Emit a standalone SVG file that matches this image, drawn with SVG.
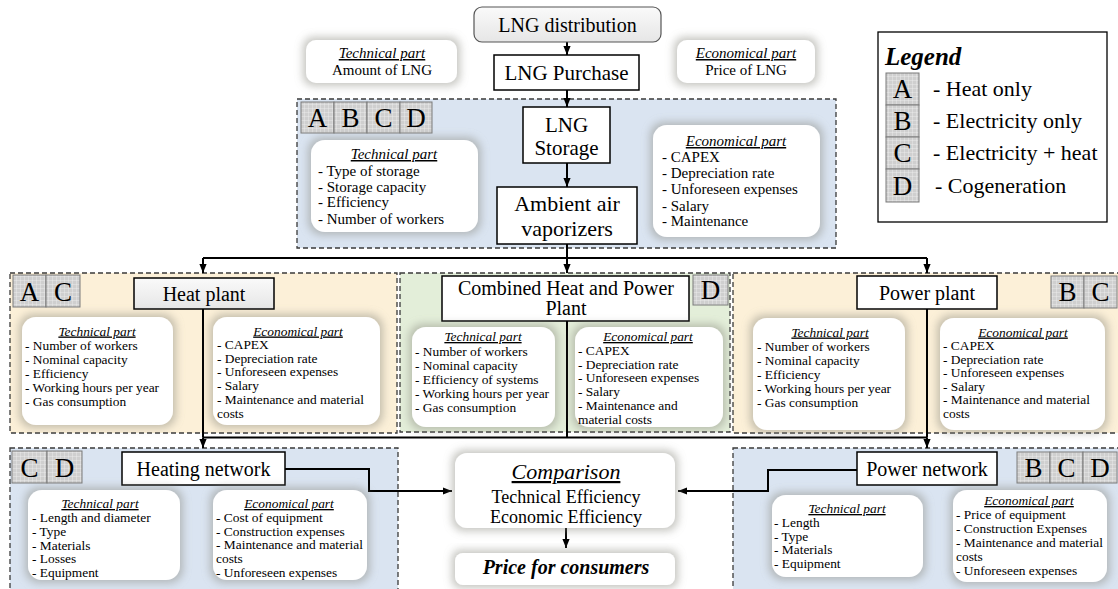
<svg xmlns="http://www.w3.org/2000/svg" width="1118" height="589" viewBox="0 0 1118 589">
<defs>
<style>
text{font-family:"Liberation Serif","Times New Roman",serif;fill:#000}
.reg{stroke:#3a3a3a;stroke-width:1.3;stroke-dasharray:5,3}
.blue{fill:#dae4f1}
.yel{fill:#fcf0d8}
.grn{fill:#e3eed9}
.card{fill:#fff;filter:url(#glow)}
.box{fill:#fff;stroke:#000;stroke-width:1.5}
.badge{fill:url(#grid);stroke:#7a7a7a;stroke-width:1}
.bl{font-size:27px;text-anchor:middle}
.t15{font-size:15px}
.t13{font-size:13.4px}
.ttl{font-style:italic;text-decoration:underline;text-anchor:middle}
.mid{text-anchor:middle}
.big{font-size:20px;text-anchor:middle}
.con{fill:none;stroke:#000;stroke-width:2}
.arr{marker-end:url(#ah)}
</style>
<pattern id="grid" width="4" height="4" patternUnits="userSpaceOnUse">
<rect width="4" height="4" fill="#cfcfcf"/>
<path d="M0,0H4M0,0V4" stroke="#f0f0f0" stroke-width="0.8"/>
</pattern>
<filter id="glow" x="-20%" y="-30%" width="140%" height="160%">
<feMorphology in="SourceAlpha" operator="dilate" radius="3" result="d"/>
<feGaussianBlur in="d" stdDeviation="4" result="b"/>
<feFlood flood-color="#8a8a80" flood-opacity="0.5"/>
<feComposite in2="b" operator="in" result="s"/>
<feMerge><feMergeNode in="s"/><feMergeNode in="SourceGraphic"/></feMerge>
</filter>
<linearGradient id="gd" x1="0" y1="0" x2="0" y2="1">
<stop offset="0" stop-color="#fafafa"/><stop offset="1" stop-color="#e6e6e6"/>
</linearGradient>
<marker id="ah" viewBox="0 0 10 10" refX="10" refY="5" markerWidth="9" markerHeight="9" markerUnits="userSpaceOnUse" orient="auto">
<path d="M0,1 L10,5 L0,9 z" fill="#000"/>
</marker>
</defs>

<rect width="1118" height="589" fill="#fff"/>

<!-- regions -->
<g id="regions">
<rect class="reg blue" x="297" y="99" width="539" height="149"/>
<rect class="reg yel" x="10" y="273" width="387" height="160"/>
<rect class="reg grn" x="400" y="273" width="330" height="159"/>
<rect class="reg yel" x="733" y="273" width="395" height="160"/>
<rect class="reg blue" x="10" y="448" width="388" height="150"/>
<rect class="reg blue" x="733" y="448" width="395" height="150"/>
</g>

<!-- connectors -->
<g id="connectors">
<path class="con arr" d="M567,42V55"/>
<path class="con arr" d="M567,90V107"/>
<path class="con arr" d="M567,163V187"/>
<path class="con" d="M567,244V258M203,258H927"/>
<path class="con arr" d="M203,258V273"/>
<path class="con arr" d="M567,258V273"/>
<path class="con arr" d="M927,258V273"/>
<path class="con" d="M203,309V437.5M567,321V437.5M927,309V437.5M203,437.5H927"/>
<path class="con arr" d="M203,437.5V448"/>
<path class="con arr" d="M927,437.5V448"/>
<path class="con arr" d="M285,469H369V491H452"/>
<path class="con arr" d="M857,470H768V491H678"/>
<path class="con arr" d="M566,528V548"/>
</g>

<!-- top -->
<g id="lng-distribution">
<rect x="474" y="7" width="187" height="35" rx="8" fill="url(#gd)" stroke="#555" stroke-width="1.2"/>
<text class="big" x="567.5" y="32">LNG distribution</text>
</g>
<g id="top-technical">
<rect class="card" x="306" y="40" width="151" height="43" rx="10"/>
<text class="t15 ttl" x="382" y="58">Technical part</text>
<text class="t15 mid" x="382" y="75">Amount of LNG</text>
</g>
<g id="lng-purchase">
<rect class="box" x="494" y="55" width="145" height="35"/>
<text class="mid" style="font-size:21px" x="566.5" y="79.5">LNG Purchase</text>
</g>
<g id="top-economical">
<rect class="card" x="677" y="40" width="138" height="43" rx="10"/>
<text class="t15 ttl" x="746" y="58">Economical part</text>
<text class="t15 mid" x="746" y="75">Price of LNG</text>
</g>

<!-- storage -->
<g id="storage-badges">
<rect class="badge" x="301" y="102" width="33" height="31"/>
<rect class="badge" x="334" y="102" width="33" height="31"/>
<rect class="badge" x="367" y="102" width="33" height="31"/>
<rect class="badge" x="400" y="102" width="32" height="31"/>
<text class="bl" x="317.5" y="127">A</text>
<text class="bl" x="350.5" y="127">B</text>
<text class="bl" x="383.5" y="127">C</text>
<text class="bl" x="416" y="127">D</text>
</g>
<g id="storage-technical">
<rect class="card" x="311" y="140" width="167" height="92" rx="14"/>
<text class="t15 ttl" x="394" y="159">Technical part</text>
<text class="t15" x="318" y="176">- Type of storage</text>
<text class="t15" x="318" y="192">- Storage capacity</text>
<text class="t15" x="318" y="207">- Efficiency</text>
<text class="t15" x="318" y="224">- Number of workers</text>
</g>
<g id="lng-storage">
<rect class="box" x="523" y="107" width="87" height="56"/>
<text class="mid" style="font-size:21px" x="566.5" y="132">LNG</text>
<text class="mid" style="font-size:21px" x="566.5" y="155">Storage</text>
</g>
<g id="vaporizers">
<rect class="box" x="497" y="187" width="140" height="57"/>
<text class="mid" style="font-size:22px" x="567" y="211">Ambient air</text>
<text class="mid" style="font-size:22px" x="567" y="236">vaporizers</text>
</g>
<g id="storage-economical">
<rect class="card" x="653" y="125" width="167" height="112" rx="14"/>
<text class="t15 ttl" x="736" y="146">Economical part</text>
<text class="t15" x="662" y="162">- CAPEX</text>
<text class="t15" x="662" y="178">- Depreciation rate</text>
<text class="t15" x="662" y="194">- Unforeseen expenses</text>
<text class="t15" x="662" y="211">- Salary</text>
<text class="t15" x="662" y="226">- Maintenance</text>
</g>

<!-- legend -->
<g id="legend">
<rect x="878" y="32" width="229" height="190" fill="#fff" stroke="#000" stroke-width="1.3"/>
<text x="885" y="65" style="font-size:25px;font-weight:bold;font-style:italic">Legend</text>
<rect class="badge" x="886" y="73" width="33" height="32"/>
<rect class="badge" x="886" y="105" width="33" height="32"/>
<rect class="badge" x="886" y="137" width="33" height="32"/>
<rect class="badge" x="886" y="169" width="33" height="33"/>
<text class="bl" x="902.5" y="98">A</text>
<text class="bl" x="902.5" y="130">B</text>
<text class="bl" x="902.5" y="162">C</text>
<text class="bl" x="902.5" y="195">D</text>
<text x="933" y="96" style="font-size:22px">- Heat only</text>
<text x="933" y="128" style="font-size:22px">- Electricity only</text>
<text x="933" y="160" style="font-size:22px">- Electricity + heat</text>
<text x="935" y="193" style="font-size:22px">- Cogeneration</text>
</g>

<!-- heat plant -->
<g id="heat-plant">
<rect class="badge" x="13" y="275" width="33" height="32"/>
<rect class="badge" x="46" y="275" width="34" height="32"/>
<text class="bl" x="29.5" y="301">A</text>
<text class="bl" x="63" y="301">C</text>
<rect class="box" x="134" y="278" width="140" height="31" style="fill:url(#gd)"/>
<text class="big" x="204" y="300.5">Heat plant</text>
<rect class="card" x="22" y="317" width="151" height="108" rx="14"/>
<text class="t13 ttl" x="97" y="335.5">Technical part</text>
<text class="t13" x="25" y="349.5">- Number of workers</text>
<text class="t13" x="25" y="363.5">- Nominal capacity</text>
<text class="t13" x="25" y="377.5">- Efficiency</text>
<text class="t13" x="25" y="391.5">- Working hours per year</text>
<text class="t13" x="25" y="405.5">- Gas consumption</text>
<rect class="card" x="213" y="317" width="167" height="108" rx="14"/>
<text class="t13 ttl" x="298" y="335.5">Economical part</text>
<text class="t13" x="217" y="349">- CAPEX</text>
<text class="t13" x="217" y="362.5">- Depreciation rate</text>
<text class="t13" x="217" y="376">- Unforeseen expenses</text>
<text class="t13" x="217" y="390">- Salary</text>
<text class="t13" x="217" y="403.5">- Maintenance and material</text>
<text class="t13" x="217" y="417.5">costs</text>
</g>

<!-- CHP -->
<g id="chp-plant">
<rect class="box" x="442" y="276" width="247" height="45"/>
<text class="big" x="566" y="295">Combined Heat and Power</text>
<text class="big" x="566" y="315">Plant</text>
<rect class="badge" x="693" y="275" width="35" height="30"/>
<text class="bl" x="710.5" y="299">D</text>
<rect class="card" x="412" y="327" width="143" height="100" rx="14"/>
<text class="t13 ttl" x="483" y="341">Technical part</text>
<text class="t13" x="415" y="355.5">- Number of workers</text>
<text class="t13" x="415" y="369.5">- Nominal capacity</text>
<text class="t13" x="415" y="383.5">- Efficiency of systems</text>
<text class="t13" x="415" y="397.5">- Working hours per year</text>
<text class="t13" x="415" y="411.5">- Gas consumption</text>
<rect class="card" x="575" y="327" width="148" height="100" rx="14"/>
<text class="t13 ttl" x="648" y="341">Economical part</text>
<text class="t13" x="578" y="355">- CAPEX</text>
<text class="t13" x="578" y="368.5">- Depreciation rate</text>
<text class="t13" x="578" y="382">- Unforeseen expenses</text>
<text class="t13" x="578" y="396">- Salary</text>
<text class="t13" x="578" y="410">- Maintenance and</text>
<text class="t13" x="578" y="424">material costs</text>
</g>

<!-- power plant -->
<g id="power-plant">
<rect class="box" x="857" y="276" width="140" height="33"/>
<text class="big" x="927" y="299.5">Power plant</text>
<rect class="badge" x="1051" y="276" width="33" height="32"/>
<rect class="badge" x="1084" y="276" width="33" height="32"/>
<text class="bl" x="1067.5" y="301">B</text>
<text class="bl" x="1100.5" y="301">C</text>
<rect class="card" x="753" y="318" width="152" height="112" rx="14"/>
<text class="t13 ttl" x="830" y="336.5">Technical part</text>
<text class="t13" x="757" y="351">- Number of workers</text>
<text class="t13" x="757" y="365">- Nominal capacity</text>
<text class="t13" x="757" y="379">- Efficiency</text>
<text class="t13" x="757" y="392.5">- Working hours per year</text>
<text class="t13" x="757" y="406.5">- Gas consumption</text>
<rect class="card" x="940" y="318" width="165" height="112" rx="14"/>
<text class="t13 ttl" x="1023" y="336.5">Economical part</text>
<text class="t13" x="943" y="350">- CAPEX</text>
<text class="t13" x="943" y="363.5">- Depreciation rate</text>
<text class="t13" x="943" y="377">- Unforeseen expenses</text>
<text class="t13" x="943" y="390.5">- Salary</text>
<text class="t13" x="943" y="404">- Maintenance and material</text>
<text class="t13" x="943" y="418">costs</text>
</g>

<!-- heating network -->
<g id="heating-network">
<rect class="badge" x="12" y="451" width="35" height="32"/>
<rect class="badge" x="47" y="451" width="35" height="32"/>
<text class="bl" x="29.5" y="477">C</text>
<text class="bl" x="64.5" y="477">D</text>
<rect class="box" x="122" y="452" width="163" height="33"/>
<text class="big" x="203.5" y="475.5">Heating network</text>
<rect class="card" x="28" y="490" width="152" height="90" rx="14"/>
<text class="t13 ttl" x="100" y="508">Technical part</text>
<text class="t13" x="32" y="522">- Length and diameter</text>
<text class="t13" x="32" y="535.5">- Type</text>
<text class="t13" x="32" y="549.5">- Materials</text>
<text class="t13" x="32" y="563">- Losses</text>
<text class="t13" x="32" y="576.5">- Equipment</text>
<rect class="card" x="213" y="490" width="154" height="90" rx="14"/>
<text class="t13 ttl" x="289" y="508">Economical part</text>
<text class="t13" x="216" y="522">- Cost of equipment</text>
<text class="t13" x="216" y="535.5">- Construction expenses</text>
<text class="t13" x="216" y="549">- Maintenance and material</text>
<text class="t13" x="216" y="562.5">costs</text>
<text class="t13" x="216" y="576.5">- Unforeseen expenses</text>
</g>

<!-- comparison -->
<g id="comparison">
<rect class="card" x="455" y="453" width="220" height="75" rx="12"/>
<text class="ttl" style="font-size:22px" x="566" y="479">Comparison</text>
<text class="mid" style="font-size:18px" x="566" y="503">Technical Efficiency</text>
<text class="mid" style="font-size:18px" x="566" y="523">Economic Efficiency</text>
</g>
<g id="price">
<rect class="card" x="455" y="553" width="220" height="32" rx="8"/>
<text class="big" style="font-weight:bold;font-style:italic" x="566" y="574">Price for consumers</text>
</g>

<!-- power network -->
<g id="power-network">
<rect class="box" x="857" y="452" width="140" height="33"/>
<text class="big" x="927" y="475.5">Power network</text>
<rect class="badge" x="1017" y="452" width="33" height="31"/>
<rect class="badge" x="1050" y="452" width="33" height="31"/>
<rect class="badge" x="1083" y="452" width="34" height="31"/>
<text class="bl" x="1033.5" y="477">B</text>
<text class="bl" x="1066.5" y="477">C</text>
<text class="bl" x="1100" y="477">D</text>
<rect class="card" x="772" y="495" width="151" height="82" rx="14"/>
<text class="t13 ttl" x="847" y="513">Technical part</text>
<text class="t13" x="774" y="527">- Length</text>
<text class="t13" x="774" y="540.5">- Type</text>
<text class="t13" x="774" y="554">- Materials</text>
<text class="t13" x="774" y="568">- Equipment</text>
<rect class="card" x="953" y="490" width="154" height="92" rx="14"/>
<text class="t13 ttl" x="1029" y="505">Economical part</text>
<text class="t13" x="956" y="519">- Price of equipment</text>
<text class="t13" x="956" y="532.5">- Construction Expenses</text>
<text class="t13" x="956" y="546.5">- Maintenance and material</text>
<text class="t13" x="956" y="560.5">costs</text>
<text class="t13" x="956" y="574.5">- Unforeseen expenses</text>
</g>
</svg>
